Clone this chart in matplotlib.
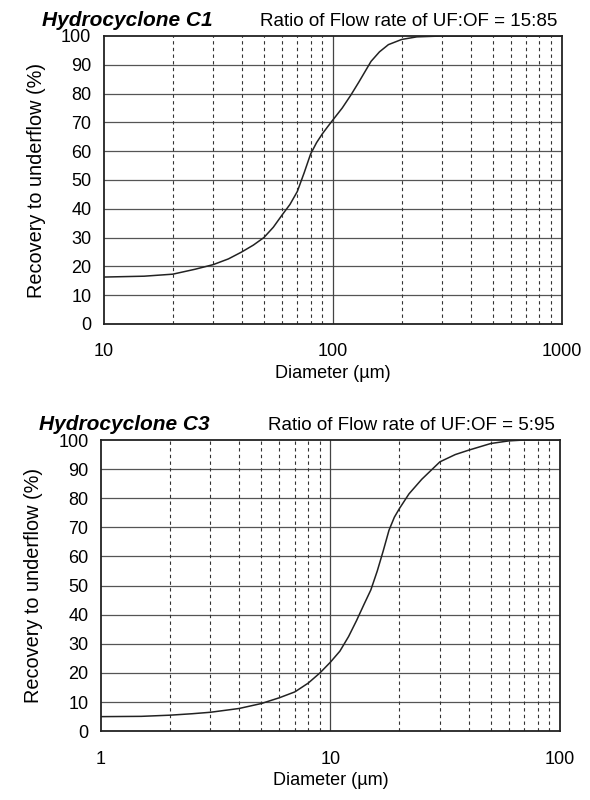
import matplotlib.pyplot as plt
from matplotlib.ticker import FixedLocator, NullFormatter
import numpy as np

plt.rcParams['font.family'] = ['Liberation Sans', 'DejaVu Sans']

# Hydrocyclone C1 (diameter in um, recovery %)
d_c1 = [10, 15, 20, 25, 30, 35, 40, 45, 50, 55, 60, 65, 70, 75, 80, 85, 90, 95, 100, 110, 120, 130, 147, 160, 175, 200, 233, 300, 500, 1000]
r_c1 = [16.3, 16.6, 17.3, 19.0, 20.6, 22.6, 25.0, 27.4, 30.0, 33.6, 37.8, 41.5, 46.0, 52.5, 59.0, 63.0, 66.0, 68.5, 70.8, 75.0, 79.5, 84.0, 91.2, 94.5, 97.0, 98.8, 99.7, 100, 100, 100]

# Hydrocyclone C3
d_c3 = [1, 1.5, 2, 2.5, 3, 4, 5, 6, 7, 8, 9, 10, 11, 12, 13, 14, 15, 16, 17, 18, 19, 20, 22, 25, 30, 35, 40, 50, 60, 70, 100]
r_c3 = [5.0, 5.1, 5.5, 6.0, 6.5, 7.8, 9.5, 11.5, 13.5, 16.5, 20.0, 23.7, 27.5, 32.5, 38.0, 43.5, 48.5, 55.0, 62.0, 69.0, 73.5, 76.5, 81.5, 86.5, 92.5, 95.0, 96.5, 98.8, 99.7, 100, 100]

fig = plt.figure(figsize=(5.9, 8), dpi=100)


def draw(ax, d, r, lo, hi, title, ratio):
    ax.set_xscale('log')
    ax.set_xlim(lo, hi)
    ax.set_ylim(0, 100)
    for v in range(10, 100, 10):
        ax.axhline(v, color='#555555', lw=0.9, zorder=1)
    for dec in [lo, lo * 10]:
        for k in range(2, 10):
            ax.axvline(dec * k, color='#333333', lw=0.8, ls=(0, (3, 3)), zorder=1)
    ax.axvline(lo * 10, color='#444444', lw=0.9, zorder=1)
    ax.plot(d, r, color='#222222', lw=1.1, zorder=3)
    ax.xaxis.set_major_locator(FixedLocator([lo, lo * 10, hi]))
    ax.set_xticklabels([str(int(lo)), str(int(lo * 10)), str(int(hi))])
    ax.xaxis.set_minor_formatter(NullFormatter())
    ax.set_yticks(range(0, 101, 10))
    ax.tick_params(which='both', length=0, labelsize=13, pad=9)
    ax.tick_params(axis='x', pad=14)
    for s in ax.spines.values():
        s.set_linewidth(1.3)
        s.set_color('#222222')
    ax.set_xlabel('Diameter (\u00b5m)', fontsize=13, labelpad=3)
    ax.set_ylabel('Recovery to underflow (%)', fontsize=14.3, labelpad=11)
    ax.text(-0.135, 1.02, title, transform=ax.transAxes, fontsize=15,
            fontweight='bold', fontstyle='italic', va='bottom', ha='left')
    ax.text(0.99, 1.02, ratio, transform=ax.transAxes, fontsize=13.5,
            va='bottom', ha='right')


ax1 = fig.add_axes([0.176, 0.595, 0.776, 0.36])
draw(ax1, d_c1, r_c1, 10, 1000, 'Hydrocyclone C1', 'Ratio of Flow rate of UF:OF = 15:85')

ax2 = fig.add_axes([0.171, 0.086, 0.778, 0.364])
draw(ax2, d_c3, r_c3, 1, 100, 'Hydrocyclone C3', 'Ratio of Flow rate of UF:OF = 5:95')

fig.savefig('out.png', dpi=100)
